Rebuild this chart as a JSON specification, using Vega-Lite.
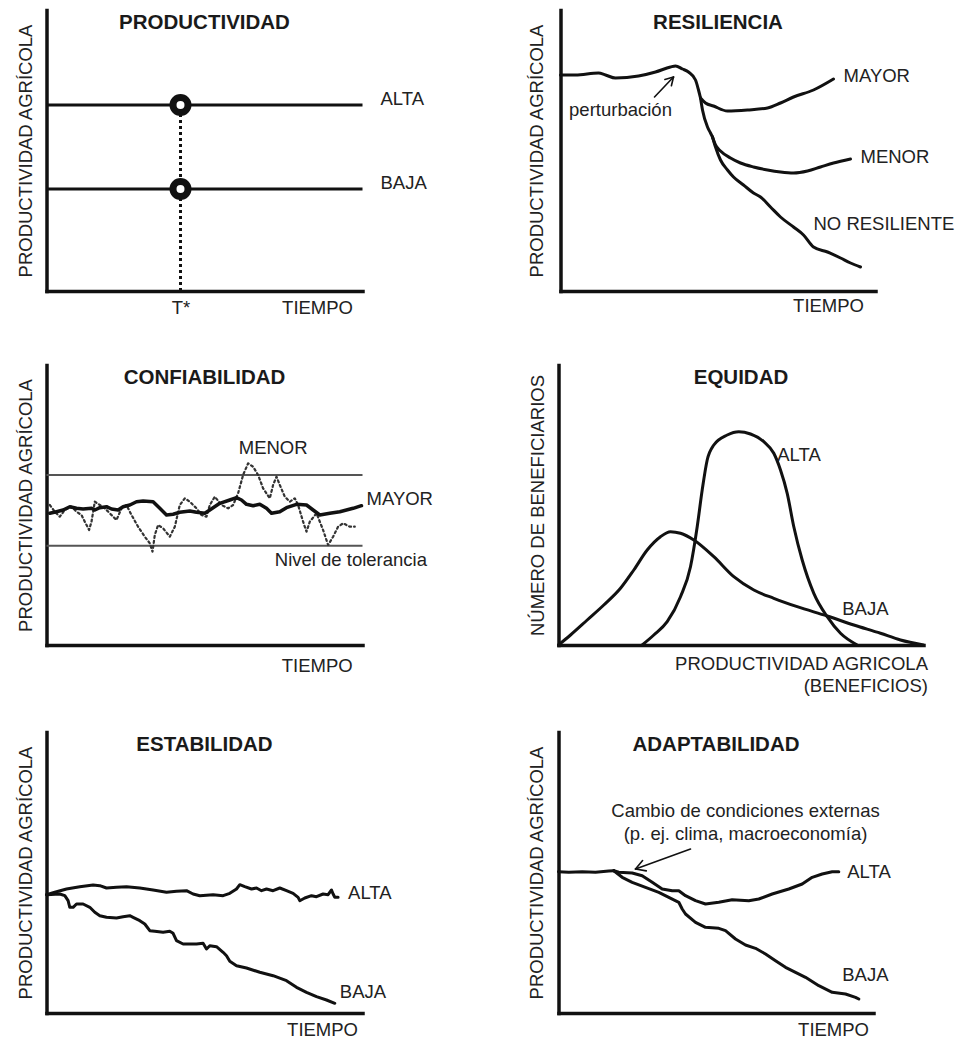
{
  "$schema": "https://vega.github.io/schema/vega-lite/v6.json",
  "background": "white",
  "padding": {"left": 15.5, "top": 10, "right": 5, "bottom": 5},
  "spacing": 37,
  "vconcat": [
    {
      "spacing": 48,
      "vconcat": [
        {
          "bounds": "flush",
          "spacing": 198,
          "hconcat": [
            {
              "width": 316, "height": 281,
              "title": "PRODUCTIVIDAD",
              "encoding": {
                "x": {"field": "t", "type": "quantitative", "scale": {"domain": [0, 316], "nice": false},
                  "axis": {"title": "TIEMPO", "titleX": 306, "titleY": 22.5, "labels": true, "values": [134], "labelExpr": "'T*'", "labelFontSize": 18.5, "labelColor": "#222", "labelFont": "Liberation Sans", "labelPadding": 22.5, "labelBaseline": "alphabetic", "labelFlush": false}},
                "y": {"field": "v", "type": "quantitative", "scale": {"domain": [0, 281], "nice": false},
                  "axis": {"title": "PRODUCTIVIDAD AGRÍCOLA", "titleX": -15}}
              },
              "layer": [
                {"data": {"name": "prodNiveles"}, "mark": {"type": "rule", "strokeWidth": 3}, "encoding": {"x2": {"field": "t2"}}},
                {"data": {"name": "prodTiempo"}, "mark": {"type": "rule", "strokeWidth": 3, "strokeDash": [3, 3]}, "encoding": {"y2": {"field": "v2"}}},
                {"data": {"name": "prodPuntos"}, "mark": {"type": "point", "shape": "circle", "filled": true, "fill": "white", "stroke": "#111", "strokeWidth": 7, "size": 225, "opacity": 1}},
                {"data": {"name": "prodEtiquetas"}, "mark": {"type": "text", "align": "left"}, "encoding": {"text": {"field": "label"}}}
              ]
            },
            {
              "width": 315, "height": 281,
              "title": "RESILIENCIA",
              "encoding": {
                "x": {"field": "t", "type": "quantitative", "scale": {"domain": [0, 315], "nice": false},
                  "axis": {"title": "TIEMPO", "titleX": 303, "titleY": 20.5}},
                "y": {"field": "v", "type": "quantitative", "scale": {"domain": [0, 281], "nice": false},
                  "axis": {"title": "PRODUCTIVIDAD AGRÍCOLA", "titleX": -18.3}}
              },
              "layer": [
                {"data": {"name": "resLineas"}, "mark": {"type": "line", "interpolate": "monotone"}, "encoding": {"detail": {"field": "s", "type": "nominal"}}},
                {"data": {"name": "resFlecha"}, "mark": {"type": "rule", "strokeWidth": 1.6, "strokeCap": "round"}, "encoding": {"x2": {"field": "t2"}, "y2": {"field": "v2"}}},
                {"data": {"name": "resEtiquetas"}, "mark": {"type": "text", "align": "left"}, "encoding": {"text": {"field": "label"}}},
                {"data": {"name": "resNota"}, "mark": {"type": "text", "align": "center"}, "encoding": {"text": {"field": "label"}}}
              ]
            }
          ]
        },
        {
          "bounds": "flush",
          "spacing": 196,
          "hconcat": [
            {
              "width": 316, "height": 280,
              "title": "CONFIABILIDAD",
              "encoding": {
                "x": {"field": "t", "type": "quantitative", "scale": {"domain": [0, 316], "nice": false},
                  "axis": {"title": "TIEMPO", "titleX": 305.7, "titleY": 26.5}},
                "y": {"field": "v", "type": "quantitative", "scale": {"domain": [0, 280], "nice": false},
                  "axis": {"title": "PRODUCTIVIDAD AGRÍCOLA", "titleX": -15}}
              },
              "layer": [
                {"data": {"name": "confTolerancia"}, "mark": {"type": "rule", "strokeWidth": 2, "color": "#555"}, "encoding": {"x2": {"field": "t2"}}},
                {"data": {"name": "confMenor"}, "mark": {"type": "line", "strokeWidth": 2.2, "strokeDash": [2, 3], "color": "#333"}},
                {"data": {"name": "confMayor"}, "mark": {"type": "line", "strokeWidth": 3.5}},
                {"data": {"name": "confEtiquetas"}, "mark": {"type": "text", "align": "left"}, "encoding": {"text": {"field": "label"}}},
                {"data": {"name": "confNota"}, "mark": {"type": "text", "align": "center"}, "encoding": {"text": {"field": "label"}}}
              ]
            },
            {
              "width": 365, "height": 280,
              "title": "EQUIDAD",
              "encoding": {
                "x": {"field": "t", "type": "quantitative", "scale": {"domain": [0, 365], "nice": false},
                  "axis": {"title": ["PRODUCTIVIDAD AGRICOLA", "(BENEFICIOS)"], "titleX": 369, "titleY": 24.5, "titleLineHeight": 22}},
                "y": {"field": "v", "type": "quantitative", "scale": {"domain": [0, 280], "nice": false},
                  "axis": {"title": "NÚMERO DE BENEFICIARIOS", "titleX": -15}}
              },
              "layer": [
                {"data": {"name": "eqCurvas"}, "mark": {"type": "line", "interpolate": "monotone"}, "encoding": {"detail": {"field": "s", "type": "nominal"}}},
                {"data": {"name": "eqEtiquetas"}, "mark": {"type": "text", "align": "left"}, "encoding": {"text": {"field": "label"}}}
              ]
            }
          ]
        }
      ]
    },
    {
      "bounds": "flush",
      "spacing": 196,
      "hconcat": [
        {
          "width": 316, "height": 281,
          "title": "ESTABILIDAD",
          "encoding": {
            "x": {"field": "t", "type": "quantitative", "scale": {"domain": [0, 316], "nice": false},
              "axis": {"title": "TIEMPO", "titleX": 311, "titleY": 22.5}},
            "y": {"field": "v", "type": "quantitative", "scale": {"domain": [0, 281], "nice": false},
              "axis": {"title": "PRODUCTIVIDAD AGRÍCOLA", "titleX": -15}}
          },
          "layer": [
            {"data": {"name": "estLineas"}, "mark": {"type": "line"}, "encoding": {"detail": {"field": "s", "type": "nominal"}}},
            {"data": {"name": "estEtiquetas"}, "mark": {"type": "text", "align": "left"}, "encoding": {"text": {"field": "label"}}}
          ]
        },
        {
          "width": 315, "height": 281,
          "title": "ADAPTABILIDAD",
          "encoding": {
            "x": {"field": "t", "type": "quantitative", "scale": {"domain": [0, 315], "nice": false},
              "axis": {"title": "TIEMPO", "titleX": 310, "titleY": 22.5}},
            "y": {"field": "v", "type": "quantitative", "scale": {"domain": [0, 281], "nice": false},
              "axis": {"title": "PRODUCTIVIDAD AGRÍCOLA", "titleX": -16.3}}
          },
          "layer": [
            {"data": {"name": "adaLineas"}, "mark": {"type": "line"}, "encoding": {"detail": {"field": "s", "type": "nominal"}}},
            {"data": {"name": "adaFlecha"}, "mark": {"type": "rule", "strokeWidth": 1.6, "strokeCap": "round"}, "encoding": {"x2": {"field": "t2"}, "y2": {"field": "v2"}}},
            {"data": {"name": "adaEtiquetas"}, "mark": {"type": "text", "align": "left"}, "encoding": {"text": {"field": "label"}}},
            {"data": {"name": "adaNota"}, "mark": {"type": "text", "align": "center"}, "encoding": {"text": {"field": "label"}}}
          ]
        }
      ]
    }
  ],
  "datasets": {
    "prodNiveles": [
      {"t": 0, "t2": 316, "v": 186, "nivel": "ALTA"},
      {"t": 0, "t2": 316, "v": 102, "nivel": "BAJA"}
    ],
    "prodTiempo": [{"t": 134, "v": 0, "v2": 186}],
    "prodPuntos": [{"t": 134, "v": 186}, {"t": 134, "v": 102}],
    "prodEtiquetas": [
      {"t": 334, "v": 192, "label": "ALTA"},
      {"t": 334, "v": 108, "label": "BAJA"}
    ],
    "resLineas": [
      {"s": "base", "t": 0, "v": 216}, {"s": "base", "t": 15, "v": 216}, {"s": "base", "t": 38, "v": 218}, {"s": "base", "t": 45, "v": 216},
      {"s": "base", "t": 55, "v": 213}, {"s": "base", "t": 78, "v": 215}, {"s": "base", "t": 95, "v": 219}, {"s": "base", "t": 110, "v": 224},
      {"s": "base", "t": 115, "v": 225}, {"s": "base", "t": 122, "v": 222}, {"s": "base", "t": 128, "v": 219}, {"s": "base", "t": 135, "v": 211},
      {"s": "base", "t": 138, "v": 201}, {"s": "base", "t": 140, "v": 193},
      {"s": "MAYOR", "t": 140, "v": 193}, {"s": "MAYOR", "t": 145, "v": 188}, {"s": "MAYOR", "t": 153, "v": 185}, {"s": "MAYOR", "t": 167, "v": 180},
      {"s": "MAYOR", "t": 187, "v": 181}, {"s": "MAYOR", "t": 207, "v": 183}, {"s": "MAYOR", "t": 220, "v": 188}, {"s": "MAYOR", "t": 233, "v": 194},
      {"s": "MAYOR", "t": 253, "v": 201}, {"s": "MAYOR", "t": 273, "v": 212},
      {"s": "tronco", "t": 140, "v": 193}, {"s": "tronco", "t": 142, "v": 181}, {"s": "tronco", "t": 147, "v": 164}, {"s": "tronco", "t": 150, "v": 158}, {"s": "tronco", "t": 152, "v": 154},
      {"s": "MENOR", "t": 152, "v": 154}, {"s": "MENOR", "t": 155, "v": 146}, {"s": "MENOR", "t": 160, "v": 140}, {"s": "MENOR", "t": 170, "v": 133},
      {"s": "MENOR", "t": 180, "v": 128}, {"s": "MENOR", "t": 193, "v": 124}, {"s": "MENOR", "t": 207, "v": 121}, {"s": "MENOR", "t": 220, "v": 119},
      {"s": "MENOR", "t": 233, "v": 118}, {"s": "MENOR", "t": 247, "v": 120}, {"s": "MENOR", "t": 260, "v": 124}, {"s": "MENOR", "t": 273, "v": 128}, {"s": "MENOR", "t": 290, "v": 132},
      {"s": "NO RESILIENTE", "t": 152, "v": 154}, {"s": "NO RESILIENTE", "t": 155, "v": 144}, {"s": "NO RESILIENTE", "t": 160, "v": 131}, {"s": "NO RESILIENTE", "t": 167, "v": 121},
      {"s": "NO RESILIENTE", "t": 173, "v": 114}, {"s": "NO RESILIENTE", "t": 183, "v": 106}, {"s": "NO RESILIENTE", "t": 193, "v": 98}, {"s": "NO RESILIENTE", "t": 200, "v": 94},
      {"s": "NO RESILIENTE", "t": 210, "v": 84}, {"s": "NO RESILIENTE", "t": 220, "v": 74}, {"s": "NO RESILIENTE", "t": 233, "v": 64}, {"s": "NO RESILIENTE", "t": 243, "v": 56},
      {"s": "NO RESILIENTE", "t": 253, "v": 44}, {"s": "NO RESILIENTE", "t": 267, "v": 39}, {"s": "NO RESILIENTE", "t": 280, "v": 33}, {"s": "NO RESILIENTE", "t": 290, "v": 28},
      {"s": "NO RESILIENTE", "t": 300, "v": 24}
    ],
    "resFlecha": [
      {"t": 94, "v": 194, "t2": 113, "v2": 214},
      {"t": 113, "v": 214, "t2": 110.9, "v2": 205.2},
      {"t": 113, "v": 214, "t2": 104.4, "v2": 211.5}
    ],
    "resEtiquetas": [
      {"t": 283, "v": 215, "label": "MAYOR"},
      {"t": 300, "v": 134, "label": "MENOR"},
      {"t": 253, "v": 67, "label": "NO RESILIENTE"}
    ],
    "resNota": [{"t": 60, "v": 181, "label": "perturbación"}],
    "confTolerancia": [
      {"t": 0, "t2": 316, "v": 170},
      {"t": 0, "t2": 316, "v": 99.3}
    ],
    "confMayor": [
      {"t": 3.3, "v": 131.7}, {"t": 10, "v": 133.3}, {"t": 16.6, "v": 135}, {"t": 23.3, "v": 138.3}, {"t": 30, "v": 136.7},
      {"t": 36.6, "v": 136}, {"t": 45, "v": 136.7}, {"t": 48.3, "v": 135}, {"t": 53.3, "v": 137.3}, {"t": 60, "v": 138.3},
      {"t": 65, "v": 136}, {"t": 71.6, "v": 135}, {"t": 76.6, "v": 138.3}, {"t": 83.3, "v": 140}, {"t": 90, "v": 143.3},
      {"t": 96.6, "v": 144}, {"t": 106.6, "v": 143.3}, {"t": 113.3, "v": 136.7}, {"t": 120, "v": 130}, {"t": 126.6, "v": 130.7},
      {"t": 133.3, "v": 132.7}, {"t": 143.3, "v": 134}, {"t": 150, "v": 132.7}, {"t": 158.3, "v": 131.7}, {"t": 163.3, "v": 135},
      {"t": 173.3, "v": 141.7}, {"t": 183.3, "v": 145}, {"t": 190, "v": 147.3}, {"t": 195, "v": 145}, {"t": 200, "v": 140.7},
      {"t": 206.6, "v": 139.3}, {"t": 213.3, "v": 140.7}, {"t": 220, "v": 136.7}, {"t": 225, "v": 131.7}, {"t": 233.3, "v": 133.3},
      {"t": 240, "v": 137.3}, {"t": 250, "v": 140.7}, {"t": 260, "v": 140}, {"t": 266.6, "v": 135}, {"t": 273.3, "v": 130},
      {"t": 283.3, "v": 131.7}, {"t": 293.3, "v": 133.3}, {"t": 306.6, "v": 136.7}, {"t": 315, "v": 139.3}
    ],
    "confMenor": [
      {"t": 3.3, "v": 140}, {"t": 8.3, "v": 133.3}, {"t": 13.3, "v": 128.3}, {"t": 18.3, "v": 135}, {"t": 25, "v": 138.3},
      {"t": 30, "v": 133.3}, {"t": 35, "v": 130}, {"t": 38.3, "v": 123.3}, {"t": 42.6, "v": 115}, {"t": 45, "v": 123.3},
      {"t": 48.3, "v": 143.3}, {"t": 53.3, "v": 140}, {"t": 58.3, "v": 136.7}, {"t": 63.3, "v": 131.7}, {"t": 70, "v": 125},
      {"t": 75, "v": 136.7}, {"t": 80, "v": 140}, {"t": 85, "v": 130}, {"t": 91.6, "v": 118.3}, {"t": 98.3, "v": 108.3},
      {"t": 103.3, "v": 101.7}, {"t": 106, "v": 93.3}, {"t": 108.3, "v": 110}, {"t": 111.6, "v": 120}, {"t": 116.6, "v": 116.7},
      {"t": 123.3, "v": 108.3}, {"t": 128.3, "v": 118.3}, {"t": 133.3, "v": 140}, {"t": 138.3, "v": 146.7}, {"t": 143.3, "v": 143.3},
      {"t": 150, "v": 136.7}, {"t": 155, "v": 130}, {"t": 160, "v": 128.3}, {"t": 163.3, "v": 140}, {"t": 168.3, "v": 148.3},
      {"t": 175, "v": 140}, {"t": 181.6, "v": 136.7}, {"t": 186.6, "v": 140}, {"t": 191.6, "v": 151.7}, {"t": 196.6, "v": 170},
      {"t": 201.6, "v": 181.7}, {"t": 206.6, "v": 178.3}, {"t": 211.6, "v": 170}, {"t": 216.6, "v": 156.7}, {"t": 223.3, "v": 146.7},
      {"t": 226.6, "v": 160}, {"t": 230, "v": 168.3}, {"t": 233.3, "v": 160}, {"t": 238.3, "v": 148.3}, {"t": 243.3, "v": 143.3},
      {"t": 248.3, "v": 146.7}, {"t": 251.6, "v": 140}, {"t": 256.6, "v": 123.3}, {"t": 260, "v": 113.3}, {"t": 263.3, "v": 123.3},
      {"t": 270, "v": 131.7}, {"t": 276.6, "v": 115}, {"t": 281.6, "v": 100}, {"t": 286.6, "v": 108.3}, {"t": 291.6, "v": 118.3},
      {"t": 296.6, "v": 121.7}, {"t": 303.3, "v": 118.3}, {"t": 308.3, "v": 118.3}
    ],
    "confEtiquetas": [
      {"t": 320, "v": 145.7, "label": "MAYOR"},
      {"t": 228.3, "v": 85, "label": "Nivel de tolerancia"}
    ],
    "confNota": [{"t": 226.7, "v": 196.7, "label": "MENOR"}],
    "eqCurvas": [
      {"s": "BAJA", "t": 0, "v": 0}, {"s": "BAJA", "t": 12, "v": 10}, {"s": "BAJA", "t": 28.7, "v": 25}, {"s": "BAJA", "t": 45.3, "v": 40},
      {"s": "BAJA", "t": 62, "v": 56.7}, {"s": "BAJA", "t": 75.3, "v": 75}, {"s": "BAJA", "t": 88.7, "v": 95}, {"s": "BAJA", "t": 102, "v": 108.3},
      {"s": "BAJA", "t": 112, "v": 113.3}, {"s": "BAJA", "t": 122, "v": 111.7}, {"s": "BAJA", "t": 135.3, "v": 105}, {"s": "BAJA", "t": 155.3, "v": 88.3},
      {"s": "BAJA", "t": 175.3, "v": 68.3}, {"s": "BAJA", "t": 195.3, "v": 55}, {"s": "BAJA", "t": 215.3, "v": 46.7}, {"s": "BAJA", "t": 238.7, "v": 38.3},
      {"s": "BAJA", "t": 268.7, "v": 29}, {"s": "BAJA", "t": 295.3, "v": 20}, {"s": "BAJA", "t": 322, "v": 11.7}, {"s": "BAJA", "t": 342, "v": 5},
      {"s": "BAJA", "t": 365, "v": 0},
      {"s": "ALTA", "t": 83.7, "v": 0}, {"s": "ALTA", "t": 95.3, "v": 10}, {"s": "ALTA", "t": 108.7, "v": 23.3}, {"s": "ALTA", "t": 122, "v": 48.3},
      {"s": "ALTA", "t": 132, "v": 78.3}, {"s": "ALTA", "t": 138.7, "v": 118.3}, {"s": "ALTA", "t": 143.7, "v": 155}, {"s": "ALTA", "t": 148.7, "v": 185},
      {"s": "ALTA", "t": 155.3, "v": 200}, {"s": "ALTA", "t": 168.7, "v": 210}, {"s": "ALTA", "t": 180.3, "v": 213.3}, {"s": "ALTA", "t": 192, "v": 211},
      {"s": "ALTA", "t": 205.3, "v": 203.3}, {"s": "ALTA", "t": 215.3, "v": 191.7}, {"s": "ALTA", "t": 222, "v": 175}, {"s": "ALTA", "t": 228.7, "v": 151.7},
      {"s": "ALTA", "t": 235.3, "v": 118.3}, {"s": "ALTA", "t": 243.7, "v": 85}, {"s": "ALTA", "t": 255.3, "v": 51.7}, {"s": "ALTA", "t": 268.7, "v": 28.3},
      {"s": "ALTA", "t": 282, "v": 11.7}, {"s": "ALTA", "t": 298.7, "v": 0}
    ],
    "eqEtiquetas": [
      {"t": 218.7, "v": 190, "label": "ALTA"},
      {"t": 283.7, "v": 35.7, "label": "BAJA"}
    ],
    "estLineas": [
      {"s": "ALTA", "t": 0, "v": 118.3}, {"s": "ALTA", "t": 8.3, "v": 120.7}, {"s": "ALTA", "t": 20, "v": 124}, {"s": "ALTA", "t": 33.3, "v": 126.3},
      {"s": "ALTA", "t": 46.6, "v": 128}, {"s": "ALTA", "t": 53.3, "v": 127.3}, {"s": "ALTA", "t": 60, "v": 125}, {"s": "ALTA", "t": 70, "v": 125.7},
      {"s": "ALTA", "t": 80, "v": 126.3}, {"s": "ALTA", "t": 93.3, "v": 125}, {"s": "ALTA", "t": 106.6, "v": 123}, {"s": "ALTA", "t": 120, "v": 120.7},
      {"s": "ALTA", "t": 130, "v": 121.7}, {"s": "ALTA", "t": 140, "v": 122.3}, {"s": "ALTA", "t": 146.6, "v": 119}, {"s": "ALTA", "t": 153.3, "v": 117.3},
      {"s": "ALTA", "t": 166.6, "v": 118.3}, {"s": "ALTA", "t": 176.6, "v": 117.3}, {"s": "ALTA", "t": 183.3, "v": 119.7}, {"s": "ALTA", "t": 190, "v": 124},
      {"s": "ALTA", "t": 193.3, "v": 128.3}, {"s": "ALTA", "t": 198.3, "v": 126.3}, {"s": "ALTA", "t": 205, "v": 124}, {"s": "ALTA", "t": 210, "v": 125},
      {"s": "ALTA", "t": 215, "v": 122.3}, {"s": "ALTA", "t": 220, "v": 124}, {"s": "ALTA", "t": 226.6, "v": 122.3}, {"s": "ALTA", "t": 233.3, "v": 125},
      {"s": "ALTA", "t": 240, "v": 122.3}, {"s": "ALTA", "t": 246.6, "v": 119.7}, {"s": "ALTA", "t": 251.6, "v": 115.7}, {"s": "ALTA", "t": 253.3, "v": 112.3},
      {"s": "ALTA", "t": 258.3, "v": 115}, {"s": "ALTA", "t": 265, "v": 117.3}, {"s": "ALTA", "t": 270, "v": 116.3}, {"s": "ALTA", "t": 276.6, "v": 119},
      {"s": "ALTA", "t": 281.6, "v": 118.3}, {"s": "ALTA", "t": 285, "v": 123}, {"s": "ALTA", "t": 286.6, "v": 119}, {"s": "ALTA", "t": 288.3, "v": 115.7},
      {"s": "ALTA", "t": 291.6, "v": 115.7},
      {"s": "BAJA", "t": 0, "v": 118.3}, {"s": "BAJA", "t": 13.3, "v": 119}, {"s": "BAJA", "t": 18.3, "v": 117.3}, {"s": "BAJA", "t": 21.6, "v": 112.3},
      {"s": "BAJA", "t": 23.3, "v": 105.7}, {"s": "BAJA", "t": 26.6, "v": 105.7}, {"s": "BAJA", "t": 30, "v": 109}, {"s": "BAJA", "t": 36.6, "v": 109},
      {"s": "BAJA", "t": 43.3, "v": 105.7}, {"s": "BAJA", "t": 48.3, "v": 100.7}, {"s": "BAJA", "t": 53.3, "v": 97.3}, {"s": "BAJA", "t": 60, "v": 95.7},
      {"s": "BAJA", "t": 70, "v": 95}, {"s": "BAJA", "t": 76.6, "v": 96.3}, {"s": "BAJA", "t": 83.3, "v": 97.3}, {"s": "BAJA", "t": 86.6, "v": 95.7},
      {"s": "BAJA", "t": 93.3, "v": 92.3}, {"s": "BAJA", "t": 98.3, "v": 89}, {"s": "BAJA", "t": 103.3, "v": 82.3}, {"s": "BAJA", "t": 108.3, "v": 81.7},
      {"s": "BAJA", "t": 116.6, "v": 80.7}, {"s": "BAJA", "t": 123.3, "v": 81.7}, {"s": "BAJA", "t": 126.6, "v": 79.7}, {"s": "BAJA", "t": 130, "v": 72.3},
      {"s": "BAJA", "t": 136.6, "v": 69}, {"s": "BAJA", "t": 150, "v": 69}, {"s": "BAJA", "t": 156.6, "v": 69.7}, {"s": "BAJA", "t": 160, "v": 64},
      {"s": "BAJA", "t": 163.3, "v": 67.3}, {"s": "BAJA", "t": 170, "v": 66.3}, {"s": "BAJA", "t": 176.6, "v": 60.7}, {"s": "BAJA", "t": 180, "v": 57.3},
      {"s": "BAJA", "t": 183.3, "v": 51.7}, {"s": "BAJA", "t": 190, "v": 47.3}, {"s": "BAJA", "t": 200, "v": 45}, {"s": "BAJA", "t": 213.3, "v": 40.7},
      {"s": "BAJA", "t": 226.6, "v": 37.3}, {"s": "BAJA", "t": 240, "v": 32.3}, {"s": "BAJA", "t": 250, "v": 25.7}, {"s": "BAJA", "t": 260, "v": 20.7},
      {"s": "BAJA", "t": 270, "v": 16.3}, {"s": "BAJA", "t": 280, "v": 13}, {"s": "BAJA", "t": 288.3, "v": 9.7}
    ],
    "estEtiquetas": [
      {"t": 301.6, "v": 119.7, "label": "ALTA"},
      {"t": 293.3, "v": 21.3, "label": "BAJA"}
    ],
    "adaLineas": [
      {"s": "común", "t": 0, "v": 141.3}, {"s": "común", "t": 10.3, "v": 140.7}, {"s": "común", "t": 23.7, "v": 141.3}, {"s": "común", "t": 37, "v": 140.7},
      {"s": "común", "t": 50.3, "v": 142}, {"s": "común", "t": 55.3, "v": 142.3},
      {"s": "ALTA", "t": 55.3, "v": 142.3}, {"s": "ALTA", "t": 60.3, "v": 140.7}, {"s": "ALTA", "t": 73.7, "v": 140}, {"s": "ALTA", "t": 83.7, "v": 137.3},
      {"s": "ALTA", "t": 93.7, "v": 130.7}, {"s": "ALTA", "t": 103.7, "v": 124}, {"s": "ALTA", "t": 113.7, "v": 122.3}, {"s": "ALTA", "t": 120.3, "v": 122.3},
      {"s": "ALTA", "t": 127, "v": 117.3}, {"s": "ALTA", "t": 137, "v": 112.3}, {"s": "ALTA", "t": 147, "v": 109}, {"s": "ALTA", "t": 160.3, "v": 110.7},
      {"s": "ALTA", "t": 173.7, "v": 113.3}, {"s": "ALTA", "t": 190.3, "v": 112.3}, {"s": "ALTA", "t": 200.3, "v": 114}, {"s": "ALTA", "t": 213.7, "v": 119},
      {"s": "ALTA", "t": 230.3, "v": 124}, {"s": "ALTA", "t": 243.7, "v": 129}, {"s": "ALTA", "t": 253.7, "v": 135.7}, {"s": "ALTA", "t": 263.7, "v": 139},
      {"s": "ALTA", "t": 273.7, "v": 141.3}, {"s": "ALTA", "t": 280.3, "v": 141.3},
      {"s": "BAJA", "t": 55.3, "v": 142.3}, {"s": "BAJA", "t": 63.7, "v": 135.7}, {"s": "BAJA", "t": 73.7, "v": 130.7}, {"s": "BAJA", "t": 87, "v": 125.7},
      {"s": "BAJA", "t": 100.3, "v": 120.7}, {"s": "BAJA", "t": 110.3, "v": 115.7}, {"s": "BAJA", "t": 120.3, "v": 110.7}, {"s": "BAJA", "t": 123.7, "v": 104},
      {"s": "BAJA", "t": 127, "v": 99}, {"s": "BAJA", "t": 137, "v": 90.7}, {"s": "BAJA", "t": 147, "v": 85.7}, {"s": "BAJA", "t": 160.3, "v": 84.7},
      {"s": "BAJA", "t": 167, "v": 82.3}, {"s": "BAJA", "t": 177, "v": 74}, {"s": "BAJA", "t": 187, "v": 68}, {"s": "BAJA", "t": 197, "v": 64.7},
      {"s": "BAJA", "t": 207, "v": 59}, {"s": "BAJA", "t": 217, "v": 52.3}, {"s": "BAJA", "t": 227, "v": 45.7}, {"s": "BAJA", "t": 237, "v": 40.7},
      {"s": "BAJA", "t": 247, "v": 35.7}, {"s": "BAJA", "t": 260.3, "v": 27.3}, {"s": "BAJA", "t": 273.7, "v": 20.7}, {"s": "BAJA", "t": 287, "v": 19},
      {"s": "BAJA", "t": 297, "v": 15.7}, {"s": "BAJA", "t": 300.3, "v": 14}
    ],
    "adaFlecha": [
      {"t": 132, "v": 164, "t2": 77, "v2": 144},
      {"t": 77, "v": 144, "t2": 84.1, "v2": 152.4},
      {"t": 77, "v": 144, "t2": 87.8, "v2": 142.1}
    ],
    "adaEtiquetas": [
      {"t": 288.7, "v": 140.7, "label": "ALTA"},
      {"t": 283.7, "v": 38, "label": "BAJA"}
    ],
    "adaNota": [
      {"t": 187, "v": 202.3, "label": "Cambio de condiciones externas"},
      {"t": 187, "v": 179, "label": "(p. ej. clima, macroeconomía)"}
    ]
  },
  "config": {
    "view": {"stroke": null},
    "font": "Liberation Sans",
    "axis": {"domainColor": "#111", "domainWidth": 3.5, "domainCap": "square", "ticks": false, "tickSize": 0, "labels": false, "grid": false,
      "titleFont": "Liberation Sans", "titleFontSize": 18.5, "titleFontWeight": "normal", "titleColor": "#222", "titleBaseline": "alphabetic"},
    "axisX": {"titleAlign": "right", "titleAnchor": "end"},
    "title": {"font": "Liberation Sans", "fontSize": 20.5, "fontWeight": "bold", "color": "#1a1a1a", "anchor": "middle", "frame": "group", "baseline": "alphabetic", "offset": -23},
    "text": {"font": "Liberation Sans", "fontSize": 18.5, "color": "#222", "baseline": "middle"},
    "line": {"color": "#111", "strokeWidth": 3, "strokeJoin": "round", "strokeCap": "round"},
    "rule": {"color": "#111", "strokeWidth": 3},
    "point": {"opacity": 1}
  }
}
